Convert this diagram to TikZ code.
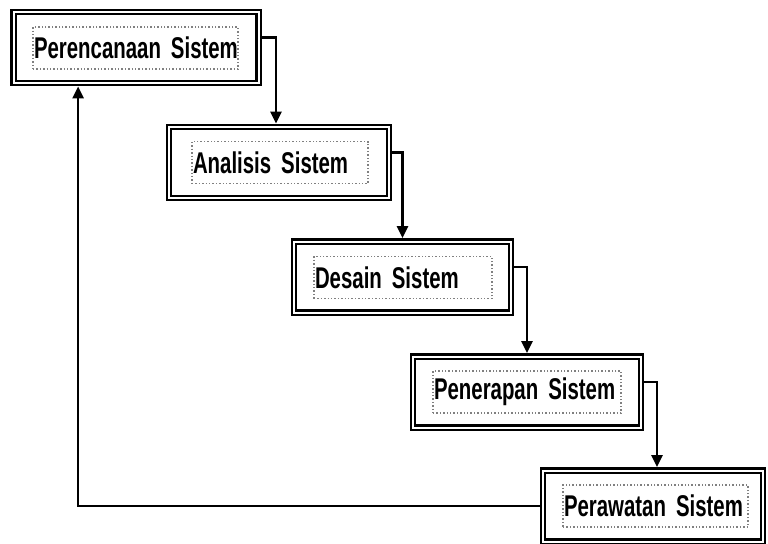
\documentclass[tikz,border=0pt]{standalone}
\usepackage{fontspec}
\setmainfont{Liberation Sans}[FakeStretch=0.68]
\usetikzlibrary{arrows.meta}

\begin{document}
\begin{tikzpicture}[
		x=0.5pt, y=-0.5pt,
		frame/.style={rectangle, draw, double, line width=1.2pt, double distance=1pt, outer sep=1.7pt, minimum height=35.5pt},
		caption/.style={rectangle, draw=gray, densely dotted, line width=0.7pt, minimum height=21pt, inner sep=0.5pt, align=left, font=\bfseries\fontsize{15}{17}\selectfont},
		flow/.style={line width=1.3pt, -{Triangle[length=6pt, width=5.5pt]}}
	]
  \useasboundingbox (0,0) rectangle (768,543);
  \node (perencanaan) [frame, minimum width=122.5pt] at (136,47.5) {};
  \node (perencanaan_t) [caption, text width=101.5pt] at (135.5,48) {\mbox{Perencanaan Sistem}};
  \node (analisis) [frame, minimum width=110pt] at (279,162.5) {};
  \node (analisis_t) [caption, text width=87pt] at (280,162.5) {Analisis Sistem};
  \node (desain) [frame, minimum width=108.5pt] at (402.5,277) {};
  \node (desain_t) [caption, text width=88pt] at (403,277.5) {Desain Sistem};
  \node (penerapan) [frame, minimum width=114pt] at (527,392) {};
  \node (penerapan_t) [caption, text width=93pt] at (527,392) {Penerapan Sistem};
  \node (perawatan) [frame, minimum width=110pt] at (653,506) {};
  \node (perawatan_t) [caption, text width=91.5pt] at (655.5,506) {Perawatan Sistem};
  \draw [flow] ([yshift=5pt]perencanaan.east) -| ([xshift=-1.5pt]analisis.north);
  \draw [flow] ([yshift=5pt]analisis.east) -| (desain.north);
  \draw [flow] ([yshift=5pt]desain.east) -| (penerapan.north);
  \draw [flow] ([yshift=5pt]penerapan.east) -| ([xshift=2pt]perawatan.north);
  \draw [flow] (perawatan.west) -| ([xshift=34pt]perencanaan.south west);
\end{tikzpicture}
\end{document}
